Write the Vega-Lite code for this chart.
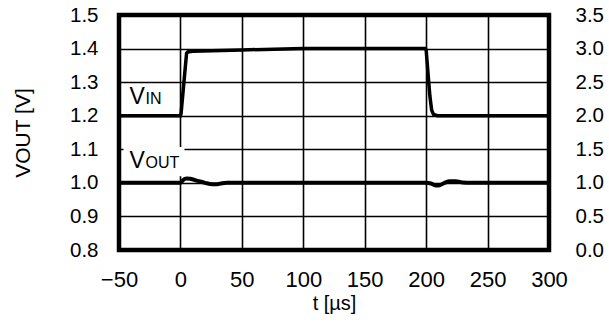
{
  "$schema": "https://vega.github.io/schema/vega-lite/v6.json",
  "width": 430,
  "height": 235,
  "autosize": {"type": "none"},
  "padding": {"left": 119, "top": 15, "right": 60, "bottom": 79},
  "background": "white",
  "config": {
    "font": "Liberation Sans",
    "view": {"stroke": "black", "strokeWidth": 4.5},
    "axis": {
      "labelFont": "Liberation Sans",
      "titleFont": "Liberation Sans",
      "labelFontSize": 20.5,
      "titleFontSize": 20.5,
      "labelColor": "black",
      "titleColor": "black",
      "titleFontWeight": "normal",
      "ticks": false,
      "domain": false,
      "labelOverlap": false,
      "labelFlush": false,
      "gridColor": "black",
      "gridOpacity": 1,
      "gridWidth": 1.6
    }
  },
  "datasets": {
    "vout": [
      {"t": -50, "v": 1.0}, {"t": 0, "v": 1.0}, {"t": 2, "v": 1.008}, {"t": 5, "v": 1.013},
      {"t": 8, "v": 1.012}, {"t": 14, "v": 1.006}, {"t": 20, "v": 1.0}, {"t": 26, "v": 0.996},
      {"t": 30, "v": 0.996}, {"t": 34, "v": 0.999}, {"t": 38, "v": 1.0}, {"t": 200, "v": 1.0},
      {"t": 204, "v": 0.998}, {"t": 208, "v": 0.992}, {"t": 211, "v": 0.993}, {"t": 215, "v": 1.0},
      {"t": 219, "v": 1.005}, {"t": 224, "v": 1.005}, {"t": 230, "v": 1.001}, {"t": 236, "v": 1.0},
      {"t": 300, "v": 1.0}
    ],
    "vin": [
      {"t": -50, "v": 2.0}, {"t": 0, "v": 2.0}, {"t": 0.5, "v": 2.03}, {"t": 5, "v": 2.93},
      {"t": 6, "v": 2.95}, {"t": 10, "v": 2.96}, {"t": 50, "v": 2.98}, {"t": 100, "v": 3.0},
      {"t": 199, "v": 3.0}, {"t": 200, "v": 2.98}, {"t": 203, "v": 2.3}, {"t": 204.5, "v": 2.08},
      {"t": 206, "v": 2.02}, {"t": 209, "v": 2.0}, {"t": 300, "v": 2.0}
    ],
    "box": [{"t": -46.3, "t2": 3.3, "v": 1.02, "v2": 1.107}],
    "labels": [
      {"t": -41.5, "v": 1.235, "main": "V", "sub": "IN"},
      {"t": -41.5, "v": 1.044, "main": "V", "sub": "OUT"}
    ]
  },
  "layer": [
    {
      "encoding": {
        "x": {"field": "t", "type": "quantitative", "scale": {"domain": [-50, 300], "nice": false},
          "axis": {"values": [-50, 0, 50, 100, 150, 200, 250, 300], "grid": true, "labelPadding": 19, "labelFontSize": 22,
            "labelExpr": "replace(datum.label, '-', '–')", "title": "t [µs]", "titleFontSize": 20, "titlePadding": 3}},
        "y": {"field": "v", "type": "quantitative", "scale": {"domain": [0.8, 1.5], "nice": false, "zero": false},
          "axis": {"values": [0.8, 0.9, 1.0, 1.1, 1.2, 1.3, 1.4, 1.5], "format": ".1f", "grid": true,
            "labelPadding": 21, "title": "VOUT [V]", "titleFontSize": 21, "titlePadding": 36}}
      },
      "layer": [
        {
          "data": {"name": "box"},
          "mark": {"type": "rect", "color": "white"},
          "encoding": {
            "x2": {"field": "t2"},
            "y2": {"field": "v2"}
          }
        },
        {
          "data": {"name": "vout"},
          "mark": {"type": "line", "color": "black", "strokeWidth": 4, "interpolate": "monotone"}
        },
        {
          "data": {"name": "labels"},
          "mark": {"type": "text", "align": "left", "baseline": "alphabetic", "fontSize": 23, "font": "Liberation Sans", "color": "black"},
          "encoding": {"text": {"field": "main"}}
        },
        {
          "data": {"name": "labels"},
          "mark": {"type": "text", "align": "left", "baseline": "alphabetic", "fontSize": 16, "dx": 16, "font": "Liberation Sans", "color": "black"},
          "encoding": {"text": {"field": "sub"}}
        }
      ]
    },
    {
      "data": {"name": "vin"},
      "mark": {"type": "line", "color": "black", "strokeWidth": 3.5},
      "encoding": {
        "x": {"field": "t", "type": "quantitative", "scale": {"domain": [-50, 300], "nice": false},
          "axis": {"values": [-50, 0, 50, 100, 150, 200, 250, 300], "grid": true, "labelPadding": 19, "labelFontSize": 22,
            "labelExpr": "replace(datum.label, '-', '–')", "title": "t [µs]", "titleFontSize": 20, "titlePadding": 3}},
        "y": {"field": "v", "type": "quantitative", "scale": {"domain": [0, 3.5], "nice": false},
          "axis": {"orient": "right", "values": [0, 0.5, 1, 1.5, 2, 2.5, 3, 3.5], "format": ".1f",
            "grid": false, "labelPadding": 26, "title": null}}
      }
    }
  ],
  "resolve": {"scale": {"y": "independent"}}
}
